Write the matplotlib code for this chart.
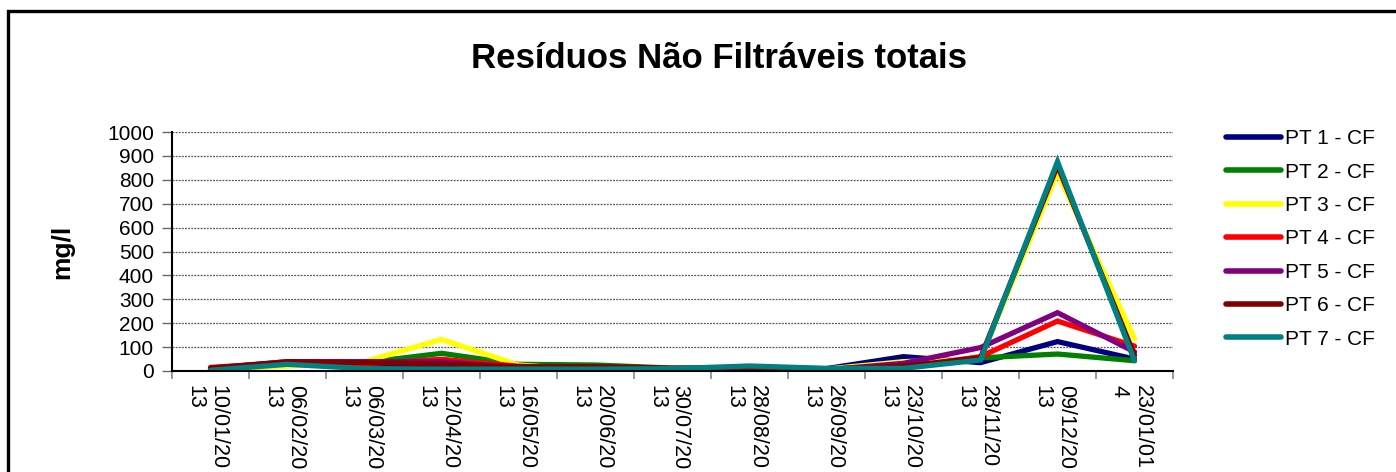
import matplotlib
matplotlib.use("Agg")
import matplotlib.pyplot as plt
import numpy as np
from matplotlib.patches import Rectangle
from matplotlib.transforms import ScaledTranslation

plt.rcParams['font.family'] = ['Liberation Sans', 'DejaVu Sans']

title = "Resíduos Não Filtráveis totais"
ylabel = "mg/l"
date_labels = ["10/01/20\n13", "06/02/20\n13", "06/03/20\n13", "12/04/20\n13",
               "16/05/20\n13", "20/06/20\n13", "30/07/20\n13", "28/08/20\n13",
               "26/09/20\n13", "23/10/20\n13", "28/11/20\n13", "09/12/20\n13",
               "23/01/01\n4"]
series_names = ["PT 1 - CF", "PT 2 - CF", "PT 3 - CF", "PT 4 - CF",
                "PT 5 - CF", "PT 6 - CF", "PT 7 - CF"]
pt1 = [5, 35, 25, 20, 10, 8, 10, 12, 10, 60, 35, 123, 50]
pt2 = [5, 30, 35, 74, 28, 25, 12, 15, 8, 25, 55, 71, 43]
pt3 = [5, 20, 39, 132, 25, 2, 10, 12, 8, 39, 50, 830, 134]
pt4 = [15, 35, 30, 49, 20, 12, 10, 8, 5, 15, 60, 209, 104]
pt5 = [10, 39, 39, 39, 15, 12, 10, 10, 5, 32, 98, 244, 80]
pt6 = [12, 39, 35, 30, 18, 18, 12, 12, 8, 20, 55, 860, 65]
pt7 = [3, 28, 10, 8, 8, 8, 10, 21, 11, 11, 46, 876, 43]
series_values = [pt1, pt2, pt3, pt4, pt5, pt6, pt7]
colors = ["#000080", "#008000", "#FFFF00", "#FF0000", "#800080", "#800000", "#008080"]
yticks = list(range(0, 1001, 100))

W, H = 1396, 472
fig = plt.figure(figsize=(W / 100, H / 100), dpi=100)
ax = fig.add_axes([172 / W, 1 - 371 / H, (1173 - 172) / W, (371 - 132) / H])

x = np.arange(len(date_labels))
for name, vals, c in zip(series_names, series_values, colors):
    ax.plot(x, vals, color=c, lw=3.8, label=name, solid_capstyle='round',
            solid_joinstyle='miter')

ax.set_xlim(-0.5, len(date_labels) - 0.5)
ax.set_ylim(0, 1000)
ax.set_yticks(yticks)
ax.set_yticklabels([str(v) for v in yticks], fontsize=15)
ax.yaxis.grid(True, linestyle=(0, (1.5, 1)), color='#555555', lw=0.9)
ax.set_axisbelow(True)

# category boundary ticks (no labels) + centred labels
ax.set_xticks(np.arange(-0.5, len(date_labels), 1.0))
ax.set_xticklabels([])
ax.tick_params(axis='x', which='major', length=6, color='#888888', width=1.2)
ax.set_xticks(x, minor=True)
ax.set_xticklabels(date_labels, minor=True, rotation=270, fontsize=15.5,
                   ha='center', va='top', multialignment='left', linespacing=1.15)
ax.tick_params(axis='x', which='minor', length=0, pad=10)
ax.tick_params(axis='y', length=7, color='#666666', width=1.0, pad=6)
shift = ScaledTranslation(-4 / 100, 0, fig.dpi_scale_trans)
for lbl in ax.get_xticklabels(minor=True):
    lbl.set_transform(lbl.get_transform() + shift)

for s in ['top', 'right']:
    ax.spines[s].set_visible(False)
ax.spines['left'].set_color('black')
ax.spines['bottom'].set_color('black')
ax.spines['left'].set_linewidth(1.5)
ax.spines['bottom'].set_linewidth(1.5)

fig.text(719 / W, 1 - 58 / H, title, ha='center', va='center',
         fontsize=25, fontweight='bold')
fig.text(62 / W, 1 - 252 / H, ylabel, ha='center', va='center',
         rotation=90, fontsize=19, fontweight='bold')

leg = fig.legend(loc='upper left', bbox_to_anchor=(1218 / W, 1 - 121 / H),
                 frameon=False, fontsize=15, handlelength=2.6,
                 handletextpad=0.2, labelspacing=0.69, borderaxespad=0)
for lh in leg.get_lines():
    lh.set_linewidth(4.0)
    lh.set_solid_capstyle('round')

fig.patches.append(Rectangle((8 / W, -0.2), 1.5, 1.2 - 11 / H,
                             transform=fig.transFigure, fill=False,
                             edgecolor='black', lw=2.4))

fig.savefig("out.png", dpi=100)
